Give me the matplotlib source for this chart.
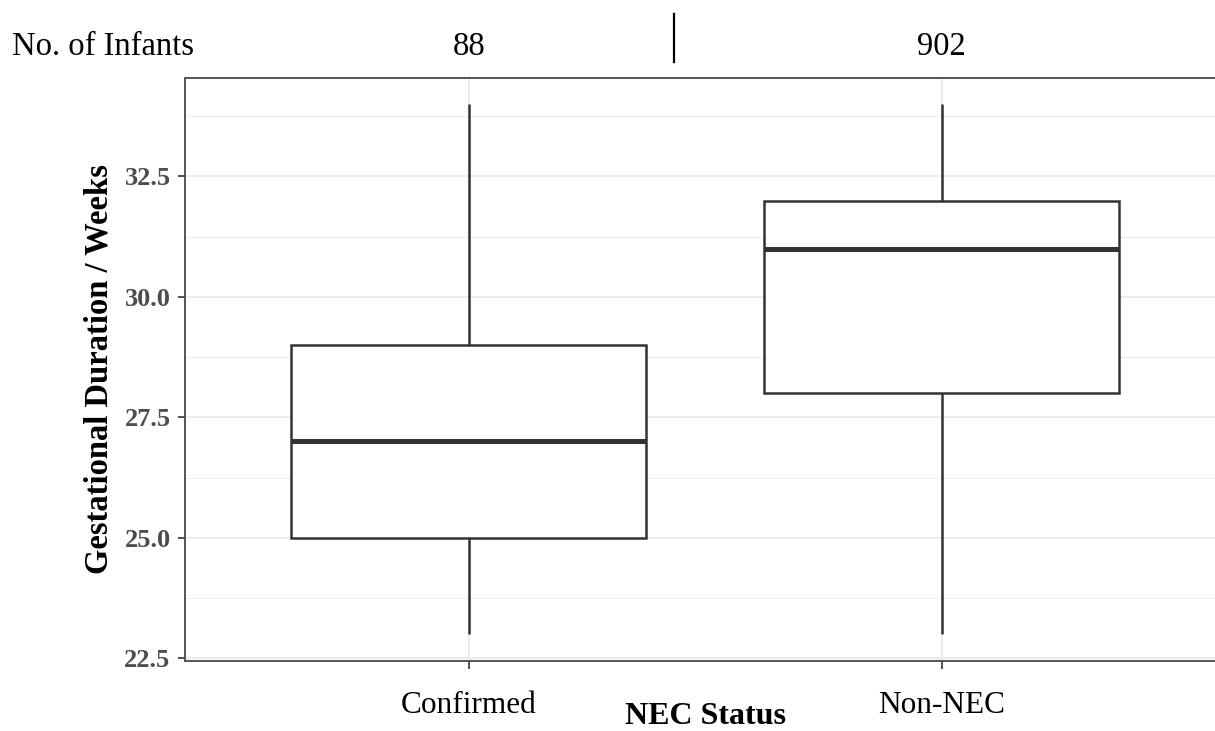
import matplotlib
matplotlib.use("Agg")
import matplotlib.pyplot as plt
from matplotlib.ticker import FixedLocator, FixedFormatter

# ---- data ----
categories = ["Confirmed", "Non-NEC"]
n_infants = [88, 902]
whisker_low = [23, 23]
q1 = [25, 28]
median = [27, 31]
q3 = [29, 32]
whisker_high = [34, 34]
y_ticks = [22.5, 25.0, 27.5, 30.0, 32.5]
y_minor = [23.75, 26.25, 28.75, 31.25, 33.75]

W, H = 1215, 731
fig = plt.figure(figsize=(W / 100, H / 100), dpi=100)
fig.patch.set_facecolor("white")

serif = ["Liberation Serif", "DejaVu Serif"]

# axes placement in pixels (panel extends beyond right edge as in reference)
left_px, right_px, top_px, bottom_px = 185, 1225.6, 77.7, 660.7
ax = fig.add_axes([left_px / W, (H - bottom_px) / H,
                   (right_px - left_px) / W, (bottom_px - top_px) / H])

positions = list(range(1, len(categories) + 1))
stats = []
for i, c in enumerate(categories):
    stats.append(dict(label=c, med=median[i], q1=q1[i], q3=q3[i],
                      whislo=whisker_low[i], whishi=whisker_high[i], fliers=[]))

edge = "#333333"
ax.bxp(stats, positions=positions, widths=0.75, showcaps=False, showfliers=False,
       patch_artist=True,
       boxprops=dict(facecolor="white", edgecolor=edge, linewidth=1.8),
       whiskerprops=dict(color=edge, linewidth=1.8, solid_capstyle="butt"),
       medianprops=dict(color=edge, linewidth=3.6, solid_capstyle="butt"),
       zorder=3)

ax.set_xlim(0.4, len(categories) + 0.6)
ax.set_ylim(22.45, 34.55)

# grid
ax.yaxis.set_major_locator(FixedLocator(y_ticks))
ax.yaxis.set_major_formatter(FixedFormatter([f"{v:.1f}" for v in y_ticks]))
ax.yaxis.set_minor_locator(FixedLocator(y_minor))
ax.set_xticks(positions)
ax.set_xticklabels(categories)
ax.set_axisbelow(True)
ax.grid(True, which="major", color="#ebebeb", linewidth=1.3)
ax.grid(True, which="minor", axis="y", color="#ebebeb", linewidth=0.65)

# spines
for s in ["left", "bottom", "top"]:
    ax.spines[s].set_color("#555555")
    ax.spines[s].set_linewidth(1.4)
ax.spines["right"].set_visible(False)

# ticks
ax.tick_params(axis="y", which="major", length=5.4, width=1.2, color="#333333",
               pad=5, labelsize=19, labelcolor="#4d4d4d")
ax.tick_params(axis="y", which="minor", length=0)
ax.tick_params(axis="x", which="major", length=5.4, width=1.2, color="#333333",
               pad=32, labelsize=22.5, labelcolor="black")
for t in ax.get_yticklabels():
    t.set_fontfamily(serif)
    t.set_fontweight("bold")
for t in ax.get_xticklabels():
    t.set_fontfamily(serif)
    t.set_verticalalignment("baseline")

# axis titles
ax.set_ylabel("Gestational Duration / Weeks", fontsize=23.5, fontweight="bold",
              family=serif, color="black", va="center")
ax.yaxis.set_label_coords((99 - left_px) / (right_px - left_px), 0.5)
fig.text((left_px + right_px) / 2 / W, (H - 723.5) / H, "NEC Status",
         ha="center", va="baseline", fontsize=23, fontweight="bold",
         family=serif, color="black")

# header row: number of infants
fig.text(12 / W, (H - 55) / H, "No. of Infants", ha="left", va="baseline",
         fontsize=23.5, fontfamily=serif, color="black")
hdr_trans = matplotlib.transforms.blended_transform_factory(ax.transData, fig.transFigure)
for p, n in zip(positions, n_infants):
    fig.text(p, (H - 55) / H, str(n), transform=hdr_trans, ha="center",
             va="baseline", fontsize=23.5, fontfamily=serif, color="black")
fig.add_artist(matplotlib.lines.Line2D([674 / W, 674 / W], [(H - 14) / H, (H - 62) / H],
                                       transform=fig.transFigure, color="black",
                                       linewidth=1.6))

fig.savefig("out.png", dpi=100)
